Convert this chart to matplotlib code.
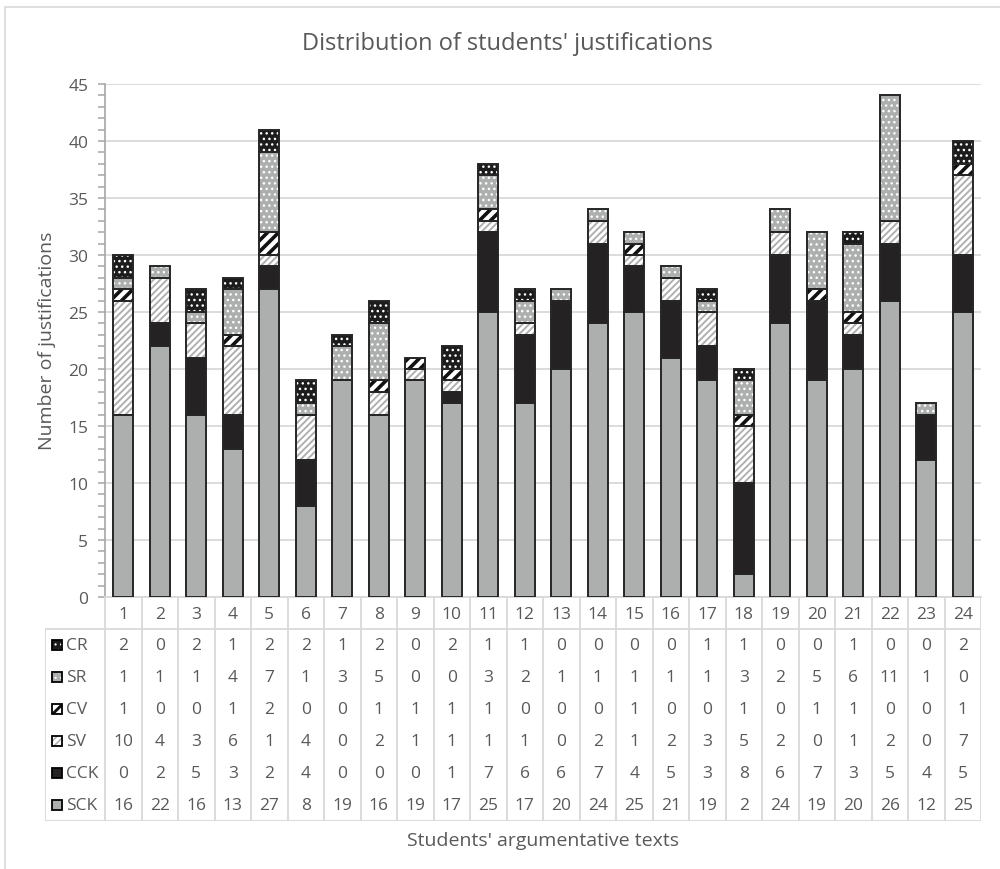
import numpy as np
import matplotlib.pyplot as plt
from matplotlib.patches import Rectangle

texts = [str(i) for i in range(1, 25)]

sck = [16, 22, 16, 13, 27, 8, 19, 16, 19, 17, 25, 17, 20, 24, 25, 21, 19, 2, 24, 19, 20, 26, 12, 25]
cck = [0, 2, 5, 3, 2, 4, 0, 0, 0, 1, 7, 6, 6, 7, 4, 5, 3, 8, 6, 7, 3, 5, 4, 5]
sv = [10, 4, 3, 6, 1, 4, 0, 2, 1, 1, 1, 1, 0, 2, 1, 2, 3, 5, 2, 0, 1, 2, 0, 7]
cv = [1, 0, 0, 1, 2, 0, 0, 1, 1, 1, 1, 0, 0, 0, 1, 0, 0, 1, 0, 1, 1, 0, 0, 1]
sr = [1, 1, 1, 4, 7, 1, 3, 5, 0, 0, 3, 2, 1, 1, 1, 1, 1, 3, 2, 5, 6, 11, 1, 0]
cr = [2, 0, 2, 1, 2, 2, 1, 2, 0, 2, 1, 1, 0, 0, 0, 0, 1, 1, 0, 0, 1, 0, 0, 2]

series_names = ['SCK', 'CCK', 'SV', 'CV', 'SR', 'CR']
series_vals = [sck, cck, sv, cv, sr, cr]

# face colour, hatch colour, hatch pattern, hatch line width
styles = {
    'SCK': ('#adafaf', '#adafaf', None, 1.0),
    'CCK': ('#252223', '#252223', None, 1.0),
    'SV': ('white', '#b0b0b0', '/////', 1.4),
    'CV': ('white', '#111111', '///', 2.6),
    'SR': ('#adafaf', 'white', '...', 1.0),
    'CR': ('#1c1c1c', 'white', '...', 1.0),
}

grey_txt = '#595959'
grid_c = '#d9d9d9'
outline = '#262626'
fs = 12.5
fs_lab = 14

plt.rcParams['font.family'] = ['Open Sans', 'DejaVu Sans']
plt.rcParams['hatch.linewidth'] = 1.2

W, H = 1000, 870
fig = plt.figure(figsize=(10, 8.7), dpi=100)

# outer chart border
fig.patches.append(Rectangle((5 / W, -0.1), 1.2, 1 - 8 / H + 0.1, transform=fig.transFigure,
                             fill=False, edgecolor=grid_c, linewidth=1.2))

ax_l, ax_r, ax_t, ax_b = 105, 981, 85, 598
ax = fig.add_axes([ax_l / W, 1 - ax_b / H, (ax_r - ax_l) / W, (ax_b - ax_t) / H])

x = np.arange(len(texts))
bw = 0.55
bottom = np.zeros(len(texts))


def set_hlw(patches, lw):
    for p in patches:
        if hasattr(p, 'set_hatch_linewidth'):
            p.set_hatch_linewidth(lw)


for name, vals in zip(series_names, series_vals):
    vals = np.array(vals, dtype=float)
    fc, hc, hatch, hlw = styles[name]
    bars = ax.bar(x, vals, bw, bottom=bottom, color=fc, edgecolor=hc, hatch=hatch,
                  linewidth=0, zorder=2)
    set_hlw(bars, hlw)
    lws = np.where(vals > 0, 1.4, 0)
    ax.bar(x, vals, bw, bottom=bottom, fill=False, edgecolor=outline, linewidth=lws, zorder=3)
    bottom += vals

ax.set_xlim(-0.5, len(texts) - 0.5)
ax.set_ylim(0, 45)
ax.set_yticks(np.arange(0, 46, 5))
ax.set_yticks(np.arange(0, 46, 1), minor=True)
ax.set_xticks([])
ax.grid(axis='y', color=grid_c, linewidth=1.3, zorder=0)
ax.set_axisbelow(True)
for s in ['top', 'right']:
    ax.spines[s].set_visible(False)
ax.spines['left'].set_color('#a6a6a6')
ax.spines['left'].set_linewidth(1.2)
ax.spines['bottom'].set_color(grid_c)
ax.spines['bottom'].set_linewidth(1.3)
ax.tick_params(axis='y', which='both', direction='out', length=5, width=1.1, color='#a6a6a6',
               labelcolor=grey_txt, labelsize=fs, pad=7)

# data table under the bars
cat_px = (ax_r - ax_l) / len(texts)
tb_l, tb_b = 45, 822
tab = fig.add_axes([tb_l / W, 1 - tb_b / H, (ax_r - tb_l) / W, (tb_b - ax_b) / H])
x0 = -0.5 - (ax_l - tb_l) / cat_px
tab.set_xlim(x0, len(texts) - 0.5)
tab.set_ylim(tb_b, ax_b)
tab.axis('off')

hdr_y = 630
for k in range(len(texts) + 1):
    tab.plot([k - 0.5, k - 0.5], [ax_b, tb_b], color=grid_c, linewidth=1.3)
tab.plot([x0, x0], [hdr_y, tb_b], color=grid_c, linewidth=1.3)
tab.plot([x0, len(texts) - 0.5], [hdr_y, hdr_y], color=grid_c, linewidth=1.3)
tab.plot([x0, len(texts) - 0.5], [tb_b, tb_b], color=grid_c, linewidth=1.3)

for i, t in enumerate(texts):
    tab.text(i, (ax_b + hdr_y) / 2 + 1, t, ha='center', va='center', color=grey_txt, fontsize=fs)

row_h = (tb_b - hdr_y) / 6
sw = 10 / cat_px
for r, name in enumerate(series_names[::-1]):
    vals = series_vals[::-1][r]
    yc = hdr_y + row_h * (r + 0.5)
    fc, hc, hatch, hlw = styles[name]
    sx = x0 + 7 / cat_px
    sq = Rectangle((sx, yc - 5), sw, 10, facecolor=fc, edgecolor=hc, hatch=hatch, linewidth=0)
    if hasattr(sq, 'set_hatch_linewidth'):
        sq.set_hatch_linewidth(hlw * 0.8)
    tab.add_patch(sq)
    tab.add_patch(Rectangle((sx, yc - 5), sw, 10, fill=False, edgecolor='black', linewidth=1.3))
    tab.text(sx + sw + 4 / cat_px, yc, name, ha='left', va='center', color=grey_txt, fontsize=fs)
    for i, v in enumerate(vals):
        tab.text(i, yc, str(v), ha='center', va='center', color=grey_txt, fontsize=fs)

fig.text(507 / W, 1 - 44 / H, "Distribution of students' justifications", ha='center', va='center',
         color=grey_txt, fontsize=17)
fig.text(47 / W, 1 - 341 / H, 'Number of justifications', ha='center', va='center', rotation=90,
         color=grey_txt, fontsize=fs_lab)
fig.text(543 / W, 1 - 841 / H, "Students' argumentative texts", ha='center', va='center',
         color=grey_txt, fontsize=fs_lab)

fig.savefig('out.png', dpi=100)
